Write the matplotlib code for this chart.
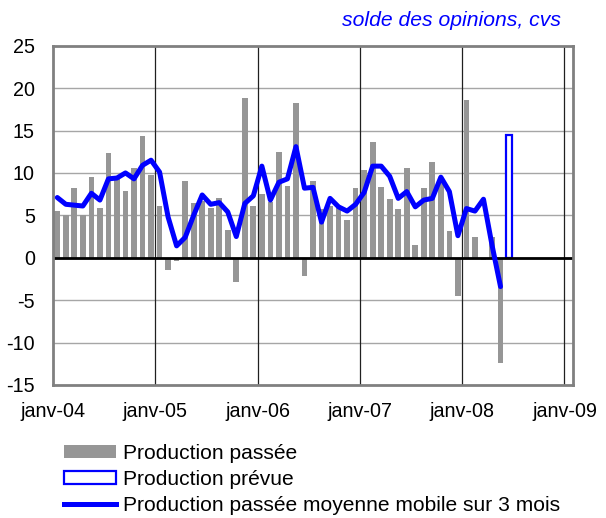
import numpy as np
import matplotlib
matplotlib.use("Agg")
import matplotlib.pyplot as plt
from matplotlib.patches import Patch
from matplotlib.lines import Line2D

plt.rcParams['font.family'] = ['Liberation Sans', 'DejaVu Sans']
plt.rcParams['axes.unicode_minus'] = False

# solde mensuel, janv-04 -> mai-08
prod_passee = [5.5, 5.0, 8.2, 5.0, 9.5, 5.9, 12.4, 9.6, 7.9, 10.6, 14.3, 9.8,
               6.1, -1.5, -0.4, 9.1, 6.4, 6.7, 5.9, 7.0, 3.3, -2.9, 18.8, 6.1,
               7.5, 6.6, 12.5, 8.5, 18.2, -2.2, 9.0, 5.8, 6.1, 6.1, 4.4, 8.2,
               10.4, 13.7, 8.3, 6.9, 5.8, 10.6, 1.5, 8.2, 11.3, 9.0, 3.2, -4.5,
               18.6, 2.4, -0.3, 2.4, -12.4]
moy_mobile = [7.1, 6.3, 6.2, 6.1, 7.6, 6.8, 9.3, 9.4, 10.0, 9.3, 10.9, 11.5,
              10.1, 4.8, 1.4, 2.4, 5.0, 7.4, 6.3, 6.5, 5.4, 2.5, 6.4, 7.3,
              10.8, 6.8, 8.9, 9.3, 13.1, 8.2, 8.3, 4.2, 7.0, 6.0, 5.5, 6.3,
              7.7, 10.8, 10.8, 9.6, 7.0, 7.8, 6.0, 6.8, 7.0, 9.5, 7.8, 2.6,
              5.8, 5.5, 6.9, 1.5, -3.4]
prod_prevue = 14.5
mois_prevue = 53  # juin-08
annees = ['janv-04', 'janv-05', 'janv-06', 'janv-07', 'janv-08', 'janv-09']

bleu = '#0000ff'
gris = '#969696'

fig = plt.figure(figsize=(6.06, 5.18), dpi=100)
ax = fig.add_axes([0.0875, 0.2568, 0.858, 0.655])

# grille
for y in range(-10, 25, 5):
    ax.axhline(y, color='#a6a6a6', lw=1, zorder=0)
for xv in range(12, 61, 12):
    ax.axvline(xv, color='#202020', lw=0.9, zorder=0)

x = np.arange(len(prod_passee)) + 0.5
ax.bar(x, prod_passee, width=0.67, color=gris, zorder=2)
ax.bar(mois_prevue + 0.5, prod_prevue, width=0.62, facecolor='white',
       edgecolor=bleu, linewidth=1.6, zorder=2)
ax.axhline(0, color='black', lw=2, zorder=2.5)
ax.plot(x, moy_mobile, color=bleu, lw=3.6, solid_joinstyle='round',
        solid_capstyle='round', zorder=3)

ax.set_xlim(0, 61)
ax.set_ylim(-15, 25)
ax.set_yticks(range(-15, 26, 5))
ax.set_xticks(range(0, 61, 12))
ax.set_xticklabels(annees)
ax.tick_params(length=0, labelsize=14.2)
ax.tick_params(axis='x', pad=12)
ax.tick_params(axis='y', pad=13)
for s in ax.spines.values():
    s.set_color('#808080')
    s.set_linewidth(2)

fig.text(0.925, 0.96, 'solde des opinions, cvs', ha='right', va='center',
         style='italic', color=bleu, fontsize=15.2)

handles = [Patch(facecolor=gris, edgecolor='none'),
           Patch(facecolor='white', edgecolor=bleu, linewidth=1.6),
           Line2D([0], [0], color=bleu, lw=3.6)]
labels = ['Production passée', 'Production prévue',
          'Production passée moyenne mobile sur 3 mois']
fig.legend(handles, labels, loc='upper left', bbox_to_anchor=(0.1056, 0.143),
           frameon=False, fontsize=15.1, handlelength=2.48, handleheight=0.55,
           handletextpad=0.33, labelspacing=0.34, borderpad=0, borderaxespad=0)

fig.savefig('out.png', dpi=100)
